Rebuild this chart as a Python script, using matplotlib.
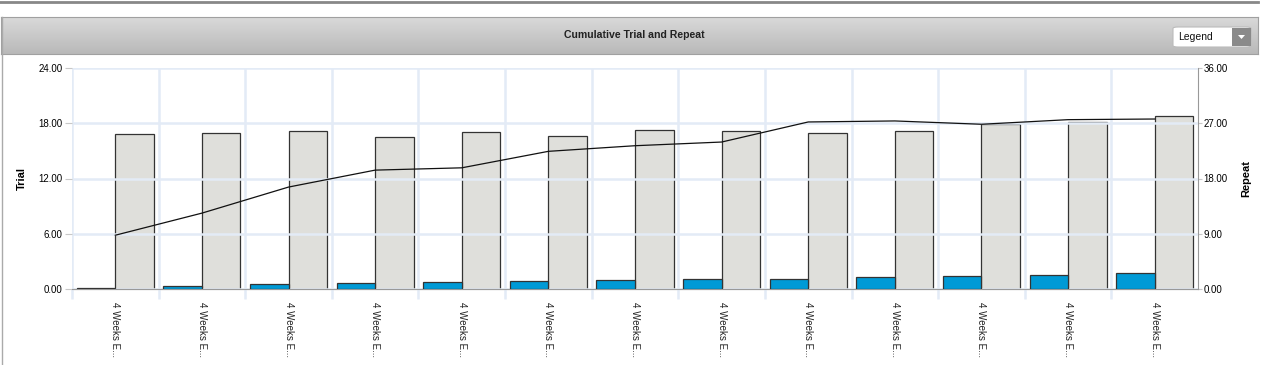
import numpy as np
import matplotlib.pyplot as plt
from matplotlib.patches import Rectangle, FancyBboxPatch, Polygon

plt.rcParams['font.family'] = ['Liberation Sans', 'DejaVu Sans']

# dados
categories = ['4 Weeks E...'] * 13
trial = [0.10, 0.37, 0.59, 0.70, 0.80, 0.91, 1.02, 1.09, 1.13, 1.32, 1.46, 1.56, 1.71]
repeat = [25.2, 25.4, 25.7, 24.8, 25.6, 24.9, 25.9, 25.7, 25.4, 25.7, 26.9, 27.2, 28.2]
cum_trial = [5.84, 8.24, 11.07, 12.91, 13.16, 14.95, 15.56, 15.96, 18.14, 18.25, 17.89, 18.39, 18.46]

W, H = 1266, 365
fig = plt.figure(figsize=(W / 100, H / 100), dpi=100)

def fx(px):
    return px / W

def fy(py):
    return 1 - py / H

# moldura e faixa de título
fig.add_artist(plt.Line2D([0, fx(1258)], [fy(1.5), fy(1.5)], color='#888888', lw=2))
fig.add_artist(plt.Line2D([fx(1.5), fx(1.5)], [fy(17), 0], color='#aaaaaa', lw=1))
hax = fig.add_axes([fx(1), fy(54), fx(1257), (54 - 17) / H])
grad = np.linspace(0, 1, 50).reshape(-1, 1)
hax.imshow(grad, aspect='auto', cmap=plt.matplotlib.colors.LinearSegmentedColormap.from_list(
    'hdr', ['#d9d9d9', '#b9b9b9']), extent=[0, 1, 0, 1])
hax.set_xlim(0, 1)
hax.set_ylim(0, 1)
hax.set_xticks([])
hax.set_yticks([])
for s in hax.spines.values():
    s.set_color('#a0a0a0')
hax.text(fx(633) / fx(1257), 0.5, 'Cumulative Trial and Repeat', ha='center', va='center',
         fontsize=7.6, fontweight='bold', color='#222222')

# caixa "Legend"
fig.add_artist(FancyBboxPatch((fx(1173), fy(47)), fx(78), (47 - 27) / H,
                              boxstyle='round,pad=0,rounding_size=0.004',
                              facecolor='white', edgecolor='#bbbbbb', lw=0.8,
                              transform=fig.transFigure))
fig.add_artist(Rectangle((fx(1232), fy(46)), fx(19), (46 - 28) / H,
                         facecolor='#8a8a8a', edgecolor='none', transform=fig.transFigure))
fig.add_artist(Polygon([[fx(1238), fy(35)], [fx(1245), fy(35)], [fx(1241.5), fy(39)]],
                       closed=True, facecolor='white', edgecolor='none', transform=fig.transFigure))
fig.text(fx(1178), fy(37), 'Legend', ha='left', va='center', fontsize=7.5, color='#111111')

# eixos principais
ax = fig.add_axes([fx(72), fy(289), fx(1198 - 72), (289 - 68) / H])
ax2 = ax.twinx()

n = len(categories)
x = np.arange(n)
bw = 0.445

ax.bar(x - bw / 2, trial, width=bw, color='#009ad6', edgecolor='#333333', linewidth=0.9, zorder=3)
ax2.bar(x + bw / 2, repeat, width=bw, color='#dfdfdb', edgecolor='#333333', linewidth=0.9, zorder=3)
ax.plot(x, cum_trial, color='#111111', lw=0.9, zorder=4)

ax.set_xlim(-0.5, n - 0.5)
ax.set_ylim(0, 24)
ax2.set_ylim(0, 36)
ax.set_yticks([0, 6, 12, 18, 24])
ax2.set_yticks([0, 9, 18, 27, 36])
ax.set_yticklabels(['%.2f' % v for v in [0, 6, 12, 18, 24]])
ax2.set_yticklabels(['%.2f' % v for v in [0, 9, 18, 27, 36]])

# grade
ax.set_xticks(np.arange(n) - 0.5, minor=True)
ax.grid(True, which='major', axis='y', color='#e3ebf6', lw=1.8, zorder=0)
ax.grid(True, which='minor', axis='x', color='#e3ebf6', lw=1.8, zorder=0)
ax.tick_params(axis='x', which='minor', length=7, width=1.8, color='#e3ebf6')
ax.set_xticks(x)
ax.set_xticklabels(categories, rotation=-90, fontsize=7, color='#222222')
ax.tick_params(axis='x', which='major', length=0, pad=9)
ax.tick_params(axis='y', length=5, width=0.8, color='#c8c8c8', labelsize=7, pad=2)
ax2.tick_params(axis='y', length=3, width=0.8, color='#c8c8c8', labelsize=7, pad=1)

ax.set_zorder(ax2.get_zorder() + 1)
ax.patch.set_visible(False)
ax2.set_axisbelow(True)

for a in (ax, ax2):
    a.spines['top'].set_visible(False)
    a.spines['left'].set_visible(False)
    a.spines['right'].set_visible(False)
    a.spines['bottom'].set_color('#999999')
ax2.spines['right'].set_visible(True)
ax2.spines['right'].set_color('#999999')

ax.set_ylabel('Trial', fontsize=8, fontweight='bold', labelpad=8)
ax2.set_ylabel('Repeat', fontsize=8, fontweight='bold', labelpad=10)

fig.savefig('out.png', dpi=100)
